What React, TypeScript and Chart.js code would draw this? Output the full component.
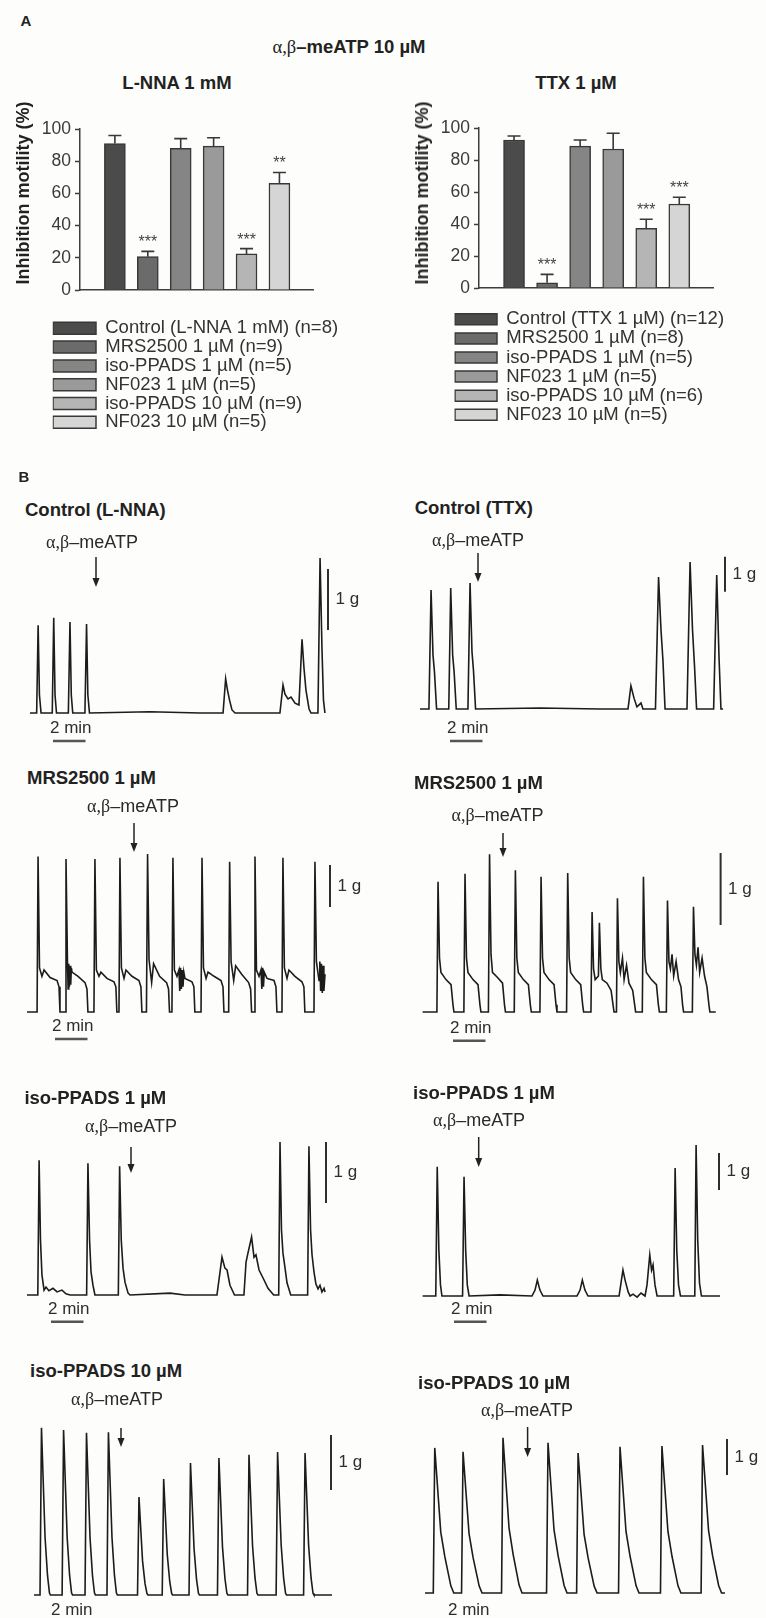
import React, { useEffect, useRef } from 'react';
import { Chart, registerables } from 'chart.js';

Chart.register(...registerables);

const SANS = '"Liberation Sans", Arial, Helvetica, sans-serif';
const SERIF = '"Liberation Serif", "Times New Roman", serif';
const INK = '#222222';
const AXIS = '#3e3e3e';
const BG = '#fdfdfb';

// ---------------- Panel A : bar data ----------------
const CATEGORIES_LNNA = [
  'Control (L-NNA 1 mM) (n=8)',
  'MRS2500 1 µM (n=9)',
  'iso-PPADS 1 µM (n=5)',
  'NF023 1 µM (n=5)',
  'iso-PPADS 10 µM (n=9)',
  'NF023 10 µM (n=5)',
];
const VALUES_LNNA = [91, 20.7, 88, 89.4, 22.4, 66.3];
const SEM_LNNA = [5, 3.3, 6, 5.2, 3.3, 6.7];
const SIG_LNNA = ['', '***', '', '', '***', '**'];

const CATEGORIES_TTX = [
  'Control (TTX 1 µM) (n=12)',
  'MRS2500 1 µM (n=8)',
  'iso-PPADS 1 µM (n=5)',
  'NF023 1 µM (n=5)',
  'iso-PPADS 10 µM (n=6)',
  'NF023 10 µM (n=5)',
];
const VALUES_TTX = [92.5, 3.3, 88.7, 86.9, 37.3, 52.5];
const SEM_TTX = [2.5, 5.2, 3.8, 9.8, 5.7, 4.2];
const SIG_TTX = ['', '***', '', '', '***', '***'];

const BAR_FILLS = ['#4b4b4b', '#6b6b6b', '#858585', '#9a9a9a', '#b5b5b5', '#d5d5d5'];

// ---------------- Panel B : traces (time in min, force in g) ----------------
const CTRL_LNNA_T = [0, 0.41, 0.5, 0.58, 0.68, 1.37, 1.46, 1.54, 1.63, 2.36, 2.46, 2.54, 2.63, 3.38, 3.48, 3.56, 3.66, 7.38, 10.46, 11.88, 12.04, 12.15, 12.28, 12.43, 12.62, 15.38, 15.57, 15.69, 15.88, 16.06, 16.31, 16.55, 16.74, 16.86, 16.98, 17.17, 17.29, 17.72, 17.85, 17.97, 18.06, 18.15];
const CTRL_LNNA_G = [0, 0, 1.44, 0.3, 0, 0, 1.56, 0.3, 0, 0, 1.49, 0.3, 0, 0, 1.46, 0.3, 0, 0.02, 0, 0, 0.56, 0.38, 0.21, 0.05, 0, 0, 0.46, 0.31, 0.23, 0.26, 0.16, 0.13, 1.21, 0.74, 0.38, 0.07, 0, 0, 2.54, 1.03, 0.21, 0];

const CTRL_TTX_T = [0, 0.55, 0.68, 0.8, 0.89, 1.02, 1.77, 1.89, 2.01, 2.1, 2.23, 2.95, 3.08, 3.2, 3.29, 3.42, 7.38, 11.08, 12.8, 12.98, 13.17, 13.35, 13.6, 13.72, 14.49, 14.68, 14.83, 14.95, 15.08, 16.43, 16.62, 16.77, 16.89, 17.02, 18.07, 18.26, 18.4, 18.52, 18.65];
const CTRL_TTX_G = [0, 0, 3.4, 1.54, 1.06, 0, 0, 3.46, 1.54, 1.06, 0, 0, 3.6, 1.63, 1.11, 0, 0.03, 0, 0, 0.66, 0.31, 0.06, 0.17, 0, 0, 3.77, 2.26, 1.4, 0, 0, 4.2, 2.26, 1.26, 0, 0, 3.83, 1.49, 0, 0];

const MRS_LNNA_T = [0,
  0.62, 0.68, 0.77, 0.92, 1.05, 1.42, 1.85, 1.97, 2.03,
  2.34, 2.40, 2.49, 2.53, 2.57, 2.61, 2.65, 2.69, 2.73, 2.77, 3.14, 3.57, 3.69, 3.75,
  4.12, 4.18, 4.27, 4.43, 4.55, 4.92, 5.35, 5.47, 5.53,
  5.66, 5.72, 5.81, 5.97, 6.09, 6.46, 6.89, 7.01, 7.07,
  7.35, 7.42, 7.51, 7.67, 7.79, 8.16, 8.59, 8.71, 8.77,
  8.92, 8.98, 9.07, 9.23, 9.35, 9.40, 9.45, 9.50, 9.55, 9.60, 9.65, 9.72, 10.15, 10.27, 10.33,
  10.71, 10.77, 10.86, 11.02, 11.14, 11.51, 11.94, 12.06, 12.12,
  12.41, 12.47, 12.56, 12.72, 12.84, 13.21, 13.64, 13.76, 13.82,
  13.97, 14.03, 14.12, 14.28, 14.40, 14.45, 14.50, 14.55, 14.60, 14.77, 15.20, 15.32, 15.38,
  15.69, 15.75, 15.84, 16.00, 16.12, 16.49, 16.92, 17.04, 17.10,
  17.66, 17.72, 17.81, 17.97, 18.02, 18.07, 18.12, 18.17, 18.22, 18.27, 18.34];
const MRS_LNNA_G = [0,
  0, 3.70, 1.05, 0.85, 1.0, 0.82, 0.75, 0.6, 0,
  0, 3.64, 1.2, 0.55, 1.15, 0.6, 1.1, 0.65, 1.05, 0.95, 0.85, 0.7, 0.55, 0,
  0, 3.64, 1.0, 0.85, 0.95, 0.8, 0.72, 0.6, 0,
  0, 3.67, 1.05, 0.8, 1.0, 0.85, 0.75, 0.6, 0,
  0, 3.76, 1.25, 0.7, 1.15, 0.85, 0.7, 0.55, 0,
  0, 3.67, 1.0, 0.85, 1.0, 0.5, 1.05, 0.55, 1.0, 0.6, 0.95, 0.8, 0.72, 0.6, 0,
  0, 3.67, 1.05, 0.8, 0.95, 0.85, 0.75, 0.6, 0,
  0, 3.58, 1.2, 0.75, 1.1, 0.9, 0.7, 0.55, 0,
  0, 3.70, 1.0, 0.85, 1.0, 0.55, 1.05, 0.6, 0.95, 0.8, 0.75, 0.6, 0,
  0, 3.67, 1.05, 0.8, 1.0, 0.85, 0.72, 0.6, 0,
  0, 3.58, 1.2, 0.75, 1.2, 0.5, 1.15, 0.45, 1.1, 0.5, 0.9];

const MRS_TTX_T = [0,
  0.88, 0.95, 1.04, 1.13, 1.44, 1.75, 1.87, 1.93,
  2.54, 2.61, 2.70, 2.79, 3.10, 3.41, 3.53, 3.59,
  4.05, 4.12, 4.21, 4.30, 4.61, 4.92, 5.04, 5.10,
  5.64, 5.71, 5.80, 5.89, 6.20, 6.51, 6.63, 6.69,
  7.22, 7.29, 7.38, 7.47, 7.78, 8.09, 8.21, 8.27,
  8.86, 8.93, 9.02, 9.11, 9.42, 9.73, 9.85, 9.91,
  10.36, 10.43, 10.52, 10.62, 10.82, 10.88, 10.97, 11.06, 11.35, 11.60, 11.72, 11.78,
  11.93, 11.99, 12.08, 12.17, 12.30, 12.40, 12.55, 12.70, 12.93, 13.05, 13.11,
  13.52, 13.59, 13.68, 13.77, 14.08, 14.39, 14.51, 14.57,
  15.00, 15.07, 15.16, 15.25, 15.35, 15.45, 15.60, 15.75, 15.90, 16.00, 16.06,
  16.60, 16.67, 16.76, 16.85, 16.95, 17.05, 17.20, 17.35, 17.50, 17.62, 17.68,
  18.04];
const MRS_TTX_G = [0,
  0, 1.81, 0.75, 0.55, 0.45, 0.38, 0.1, 0,
  0, 1.92, 0.75, 0.55, 0.45, 0.38, 0.1, 0,
  0, 2.19, 0.8, 0.55, 0.48, 0.4, 0.1, 0,
  0, 1.97, 0.75, 0.55, 0.45, 0.38, 0.1, 0,
  0, 1.88, 0.75, 0.55, 0.45, 0.38, 0.1, 0,
  0, 1.93, 0.75, 0.55, 0.45, 0.38, 0.1, 0,
  0, 1.39, 0.6, 0.45, 0.5, 1.24, 0.6, 0.45, 0.4, 0.3, 0.1, 0,
  0, 1.58, 0.7, 0.55, 0.75, 0.45, 0.65, 0.4, 0.3, 0.1, 0,
  0, 1.88, 0.75, 0.55, 0.45, 0.38, 0.1, 0,
  0, 1.55, 0.7, 0.6, 0.8, 0.5, 0.7, 0.45, 0.35, 0.1, 0,
  0, 1.46, 0.8, 0.65, 0.9, 0.55, 0.75, 0.5, 0.35, 0.1, 0,
  0];

const ISO1_LNNA_T = [0, 0.665, 0.745, 0.83, 0.92, 1.05, 1.17, 1.35, 1.60, 1.85, 2.15, 2.40, 2.65, 3.67, 3.75, 3.85, 3.94, 4.06, 4.18, 5.62, 5.70, 5.80, 5.91, 6.03, 6.22, 6.34, 8.80, 9.72, 11.69, 12.00, 12.18, 12.31, 12.49, 12.77, 13.35, 13.48, 13.60, 13.82, 13.97, 14.09, 14.28, 14.58, 14.83, 15.18, 15.49, 15.57, 15.66, 15.75, 15.88, 16.00, 16.23, 17.27, 17.35, 17.45, 17.54, 17.66, 17.78, 17.91, 18.03, 18.15, 18.28, 18.34];
const ISO1_LNNA_G = [0, 0, 2.21, 0.90, 0.33, 0.08, 0.13, 0.07, 0.11, 0.05, 0.08, 0.02, 0, 0, 2.16, 0.90, 0.38, 0.16, 0, 0, 2.11, 0.90, 0.44, 0.21, 0.03, 0, 0.03, 0, 0, 0.62, 0.44, 0.41, 0.16, 0, 0, 0.54, 0.69, 0.95, 0.62, 0.66, 0.41, 0.25, 0.11, 0, 0, 2.51, 1.07, 0.69, 0.44, 0.20, 0, 0, 2.44, 1.07, 0.66, 0.38, 0.18, 0.10, 0.16, 0.05, 0.11, 0.05];

const ISO1_TTX_T = [0, 0.81, 0.90, 1.00, 1.10, 1.19, 2.46, 2.55, 2.65, 2.75, 2.86, 4.76, 6.73, 6.92, 7.06, 7.22, 7.41, 9.50, 9.69, 9.83, 9.99, 10.18, 12.09, 12.22, 12.33, 12.46, 12.65, 12.77, 12.95, 13.20, 13.44, 13.69, 13.81, 13.98, 14.09, 14.18, 14.30, 14.43, 15.45, 15.54, 15.64, 15.75, 15.87, 16.75, 16.83, 16.93, 17.04, 17.16, 18.30];
const ISO1_TTX_G = [0, 0, 3.49, 1.24, 0.30, 0, 0, 3.22, 1.24, 0.30, 0, 0.03, 0, 0.16, 0.43, 0.16, 0, 0, 0.16, 0.43, 0.16, 0, 0, 0.38, 0.70, 0.43, 0.11, 0, 0.05, -0.03, 0.08, 0, 0.30, 1.11, 0.70, 0.84, 0.30, 0, 0, 3.46, 1.24, 0.30, 0, 0, 4.08, 1.51, 0.35, 0, 0];

const ISO10_LNNA_T = [0, 0.37, 0.46, 0.68, 0.83, 0.95, 1.01, 1.73, 1.82, 2.04, 2.19, 2.31, 2.37, 3.14, 3.23, 3.45, 3.60, 3.72, 3.78, 4.49, 4.58, 4.80, 4.95, 5.07, 5.13, 6.37, 6.46, 6.68, 6.83, 6.95, 7.01, 7.89, 7.98, 8.20, 8.35, 8.47, 8.53, 9.54, 9.63, 9.85, 10.00, 10.12, 10.18, 11.29, 11.38, 11.60, 11.75, 11.87, 11.93, 13.14, 13.23, 13.45, 13.60, 13.72, 13.78, 14.90, 14.99, 15.21, 15.36, 15.48, 15.54, 16.59, 16.68, 16.90, 17.05, 17.17, 17.23, 18.34];
const ISO10_LNNA_G = [0, 0, 3.04, 1.05, 0.36, 0.04, 0, 0, 3.00, 1.05, 0.36, 0.04, 0, 0, 2.95, 1.03, 0.35, 0.04, 0, 0, 2.96, 1.04, 0.36, 0.04, 0, 0, 1.78, 0.62, 0.21, 0.03, 0, 0, 2.11, 0.74, 0.25, 0.03, 0, 0, 2.40, 0.84, 0.29, 0.03, 0, 0, 2.49, 0.87, 0.30, 0.03, 0, 0, 2.55, 0.89, 0.31, 0.03, 0, 0, 2.60, 0.91, 0.31, 0.03, 0, 0, 2.58, 0.90, 0.31, 0.03, 0, 0];

const ISO10_TTX_T = [0, 0.51, 0.60, 0.97, 1.22, 1.59, 1.77, 2.25, 2.34, 2.71, 2.96, 3.33, 3.51, 4.71, 4.80, 5.17, 5.42, 5.79, 5.97, 7.48, 7.57, 7.94, 8.19, 8.56, 8.74, 9.33, 9.42, 9.79, 10.04, 10.41, 10.59, 11.91, 12.00, 12.37, 12.62, 12.99, 13.17, 14.49, 14.58, 14.95, 15.20, 15.57, 15.75, 16.99, 17.08, 17.45, 17.70, 18.07, 18.25, 18.46];
const ISO10_TTX_G = [0, 0, 4.03, 1.69, 1.01, 0.20, 0, 0, 3.92, 1.65, 0.98, 0.20, 0, 0, 4.31, 1.81, 1.08, 0.22, 0, 0, 4.17, 1.75, 1.04, 0.21, 0, 0, 3.89, 1.63, 0.97, 0.19, 0, 0, 4.06, 1.71, 1.02, 0.20, 0, 0, 4.08, 1.71, 1.02, 0.20, 0, 0, 4.11, 1.73, 1.03, 0.21, 0, 0];

// ---------------- layout (page pixels) ----------------
const PX_PER_MIN = 16.25;

const BAR_PANELS = [
  {
    key: 'lnna', left: 0, top: 100, width: 366, height: 350,
    categories: CATEGORIES_LNNA, values: VALUES_LNNA, sem: SEM_LNNA, sig: SIG_LNNA,
    padding: { left: 0, right: 53, top: 29, bottom: 8.45 },
    yAxisW: 80, xAxisH: 28.75, legendLeft: 52.7, legendPad: 0.3, boxW: 43, boxH: 12,
  },
  {
    key: 'ttx', left: 400, top: 100, width: 366, height: 350,
    categories: CATEGORIES_TTX, values: VALUES_TTX, sem: SEM_TTX, sig: SIG_TTX,
    padding: { left: 0, right: 53, top: 28, bottom: 15.95 },
    yAxisW: 79, xAxisH: 21.45, legendLeft: 54.4, legendPad: 0.6, boxW: 42, boxH: 11,
  },
];

const TRACE_PANELS = [
  { key: 'r1l', title: 'Control (L-NNA)', titleAt: [25, 509.5], t: CTRL_LNNA_T, g: CTRL_LNNA_G,
    box: { left: 0, top: 525, width: 383, height: 225 }, x0: 30, base: 713, gPx: 61,
    arrow: [96, 557, 587], label: [92, 541.5], gBar: [328, 569], minBar: [53, 741] },
  { key: 'r1r', title: 'Control (TTX)', titleAt: [414.7, 508], t: CTRL_TTX_T, g: CTRL_TTX_G,
    box: { left: 383, top: 525, width: 383, height: 225 }, x0: 420, base: 709, gPx: 35,
    arrow: [478, 553, 582], label: [478, 540], gBar: [725, 556.7], minBar: [450, 741] },
  { key: 'r2l', title: 'MRS2500 1 µM', titleAt: [27, 778], t: MRS_LNNA_T, g: MRS_LNNA_G,
    box: { left: 0, top: 792, width: 383, height: 256 }, x0: 27, base: 1012, gPx: 42,
    arrow: [134, 823, 852], label: [133, 806], gBar: [330, 865], minBar: [55, 1039] },
  { key: 'r2r', title: 'MRS2500 1 µM', titleAt: [414, 783], t: MRS_TTX_T, g: MRS_TTX_G,
    box: { left: 383, top: 792, width: 383, height: 256 }, x0: 422.6, base: 1012, gPx: 72,
    arrow: [503, 833, 857], label: [497.5, 815], gBar: [720.6, 853], minBar: [453, 1040.7] },
  { key: 'r3l', title: 'iso-PPADS 1 µM', titleAt: [24.4, 1098], t: ISO1_LNNA_T, g: ISO1_LNNA_G,
    box: { left: 0, top: 1106, width: 383, height: 222 }, x0: 27, base: 1295, gPx: 61,
    arrow: [131, 1147, 1173], label: [131, 1126], gBar: [326, 1142], minBar: [51, 1321.7] },
  { key: 'r3r', title: 'iso-PPADS 1 µM', titleAt: [413, 1093], t: ISO1_TTX_T, g: ISO1_TTX_G,
    box: { left: 383, top: 1106, width: 383, height: 222 }, x0: 422.6, base: 1296, gPx: 37,
    arrow: [478.7, 1137, 1167], label: [479, 1120], gBar: [719, 1153], minBar: [454, 1321.7] },
  { key: 'r4l', title: 'iso-PPADS 10 µM', titleAt: [30, 1371], t: ISO10_LNNA_T, g: ISO10_LNNA_G,
    box: { left: 0, top: 1386, width: 383, height: 232 }, x0: 34, base: 1595, gPx: 55,
    arrow: [121, 1428, 1447], label: [117, 1399], gBar: [331, 1435], minBar: [54, 1622.5] },
  { key: 'r4r', title: 'iso-PPADS 10 µM', titleAt: [418, 1383], t: ISO10_TTX_T, g: ISO10_TTX_G,
    box: { left: 383, top: 1386, width: 383, height: 232 }, x0: 425, base: 1593, gPx: 36,
    arrow: [527.6, 1427, 1457], label: [527, 1410], gBar: [727, 1439], minBar: [451, 1622.5] },
];

// ---------------- helpers ----------------
function drawAgonist(ctx: CanvasRenderingContext2D, cx: number, cy: number, size: number) {
  const parts = [
    { t: 'α,β', f: `${size}px ${SERIF}` },
    { t: '–meATP', f: `${size}px ${SANS}` },
  ];
  const widths = parts.map((p) => { ctx.font = p.f; return ctx.measureText(p.t).width; });
  const total = widths.reduce((a, b) => a + b, 0);
  let x = cx - total / 2;
  ctx.textAlign = 'left';
  ctx.textBaseline = 'alphabetic';
  ctx.fillStyle = '#2a2a2a';
  parts.forEach((p, i) => { ctx.font = p.f; ctx.fillText(p.t, x, cy + size * 0.36); x += widths[i]; });
}

function BarPanel({ cfg }: { cfg: any }) {
  const ref = useRef<HTMLCanvasElement>(null);
  useEffect(() => {
    const extras = {
      id: 'barExtras_' + cfg.key,
      afterLayout(chart: any) {
        const lg = chart.legend;
        if (lg) {
          lg.left = cfg.legendLeft;
          lg.right = chart.width;
          lg.width = lg.right - lg.left;
        }
      },
      afterDatasetsDraw(chart: any) {
        const { ctx } = chart;
        const xs = chart.scales.x;
        const ys = chart.scales.y;
        ctx.save();
        ctx.strokeStyle = '#383838';
        ctx.lineWidth = 1.6;
        cfg.values.forEach((v: number, i: number) => {
          const px = xs.getPixelForValue(i);
          const yb = ys.getPixelForValue(v);
          const yt = ys.getPixelForValue(v + cfg.sem[i]);
          ctx.beginPath();
          ctx.moveTo(px, yb);
          ctx.lineTo(px, yt);
          ctx.moveTo(px - 6.5, yt);
          ctx.lineTo(px + 6.5, yt);
          ctx.stroke();
          if (cfg.sig[i]) {
            ctx.fillStyle = '#444';
            ctx.font = `16px ${SANS}`;
            ctx.textAlign = 'center';
            ctx.textBaseline = 'alphabetic';
            ctx.fillText(cfg.sig[i], px, yt - 4);
          }
        });
        ctx.restore();
      },
    };
    const chart = new Chart(ref.current as HTMLCanvasElement, {
      type: 'bar',
      data: {
        datasets: [{
          data: cfg.values.map((v: number, i: number) => ({ x: i, y: v })),
          backgroundColor: BAR_FILLS,
          borderColor: '#383838',
          borderWidth: 1.5,
          barThickness: 21,
        }],
      },
      options: {
        responsive: false,
        animation: false,
        devicePixelRatio: 1,
        events: [],
        layout: { padding: cfg.padding },
        scales: {
          x: {
            type: 'linear', min: -1.06, max: 6.02, offset: false,
            ticks: { display: false },
            grid: { display: false, drawTicks: false },
            border: { display: true, color: AXIS, width: 1.5 },
            afterFit: (s: any) => { s.height = cfg.xAxisH; },
          },
          y: {
            type: 'linear', min: 0, max: 100,
            ticks: { stepSize: 20, font: { family: SANS, size: 17.5 }, color: '#3a3a3a', padding: 4 },
            grid: { display: true, drawOnChartArea: false, drawTicks: true, tickLength: 5, tickColor: AXIS, tickWidth: 1.5 },
            border: { display: true, color: AXIS, width: 1.5 },
            afterFit: (s: any) => { s.width = cfg.yAxisW; },
          },
        },
        plugins: {
          tooltip: { enabled: false },
          legend: {
            position: 'bottom',
            align: 'start',
            labels: {
              boxWidth: cfg.boxW,
              boxHeight: cfg.boxH,
              padding: cfg.legendPad,
              font: { family: SANS, size: 18.5 },
              color: '#333',
              generateLabels: () => cfg.categories.map((c: string, i: number) => ({
                text: c, fillStyle: BAR_FILLS[i], strokeStyle: '#383838', lineWidth: 1.5,
                hidden: false, index: i, datasetIndex: 0, fontColor: '#333',
              })),
            },
          },
        },
      } as any,
      plugins: [extras],
    });
    return () => chart.destroy();
  }, []);
  return (
    <canvas ref={ref} width={cfg.width} height={cfg.height}
      style={{ position: 'absolute', left: cfg.left, top: cfg.top, width: cfg.width, height: cfg.height }} />
  );
}

function TracePanel({ tr }: { tr: any }) {
  const ref = useRef<HTMLCanvasElement>(null);
  useEffect(() => {
    const { box, x0, base, gPx } = tr;
    const xmin = (box.left - x0) / PX_PER_MIN;
    const xmax = (box.left + box.width - x0) / PX_PER_MIN;
    const ymax = (base - box.top) / gPx;
    const ymin = (base - box.top - box.height) / gPx;
    const annot = {
      id: 'anno_' + tr.key,
      afterDraw(chart: any) {
        const { ctx } = chart;
        const xs = chart.scales.x;
        const ys = chart.scales.y;
        const ox = box.left;
        const oy = box.top;
        ctx.save();
        const ax = tr.arrow[0] - ox;
        const a1 = tr.arrow[1] - oy;
        const a2 = tr.arrow[2] - oy;
        ctx.strokeStyle = INK;
        ctx.fillStyle = INK;
        ctx.lineWidth = 1.5;
        ctx.beginPath();
        ctx.moveTo(ax, a1);
        ctx.lineTo(ax, a2 - 8);
        ctx.stroke();
        ctx.beginPath();
        ctx.moveTo(ax - 3.5, a2 - 9);
        ctx.lineTo(ax + 3.5, a2 - 9);
        ctx.lineTo(ax, a2);
        ctx.closePath();
        ctx.fill();
        drawAgonist(ctx, tr.label[0] - ox, tr.label[1] - oy, 18);
        const gLen = ys.getPixelForValue(0) - ys.getPixelForValue(1);
        const gx = tr.gBar[0] - ox;
        const gy = tr.gBar[1] - oy;
        ctx.strokeStyle = '#2e2e2e';
        ctx.lineWidth = 2;
        ctx.beginPath();
        ctx.moveTo(gx, gy);
        ctx.lineTo(gx, gy + gLen);
        ctx.stroke();
        ctx.fillStyle = '#2e2e2e';
        ctx.font = `17px ${SANS}`;
        ctx.textAlign = 'left';
        ctx.textBaseline = 'middle';
        ctx.fillText('1 g', gx + 7.5, gy + gLen / 2);
        const mLen = xs.getPixelForValue(2) - xs.getPixelForValue(0);
        const mx = tr.minBar[0] - ox;
        const my = tr.minBar[1] - oy;
        ctx.strokeStyle = '#555';
        ctx.lineWidth = 2.5;
        ctx.beginPath();
        ctx.moveTo(mx, my);
        ctx.lineTo(mx + mLen, my);
        ctx.stroke();
        ctx.fillStyle = '#2e2e2e';
        ctx.fillText('2 min', mx - 3, my - 12.5);
        ctx.restore();
      },
    };
    const chart = new Chart(ref.current as HTMLCanvasElement, {
      type: 'line',
      data: {
        datasets: [{
          data: tr.t.map((t: number, i: number) => ({ x: t, y: tr.g[i] })),
          borderColor: '#1c1c1c',
          borderWidth: 1.6,
          pointRadius: 0,
          tension: 0,
          fill: false,
        }],
      },
      options: {
        responsive: false,
        animation: false,
        devicePixelRatio: 1,
        events: [],
        layout: { padding: 0 },
        scales: {
          x: { type: 'linear', display: false, min: xmin, max: xmax },
          y: { type: 'linear', display: false, min: ymin, max: ymax },
        },
        plugins: { legend: { display: false }, tooltip: { enabled: false } },
      } as any,
      plugins: [annot],
    });
    return () => chart.destroy();
  }, []);
  const { box } = tr;
  return (
    <canvas ref={ref} width={box.width} height={box.height}
      style={{ position: 'absolute', left: box.left, top: box.top, width: box.width, height: box.height }} />
  );
}

function Txt({ x, y, size = 18, bold = false, center = false, rotate = false, color = INK, children }: any) {
  const style: React.CSSProperties = {
    position: 'absolute', left: x, top: y, fontFamily: SANS, fontSize: size,
    fontWeight: bold ? 700 : 400, lineHeight: 1, whiteSpace: 'nowrap', color,
    transform: `translate(${center ? '-50%' : '0'}, -50%)${rotate ? ' rotate(-90deg)' : ''}`,
  };
  return <div style={style}>{children}</div>;
}

export default function App() {
  useEffect(() => {
    document.body.style.margin = '0';
    document.body.style.background = BG;
  }, []);
  return (
    <div style={{ position: 'absolute', left: 0, top: 0, width: 766, height: 1618, overflow: 'hidden', background: BG }}>
      {BAR_PANELS.map((cfg) => <BarPanel key={cfg.key} cfg={cfg} />)}
      {TRACE_PANELS.map((tr) => <TracePanel key={tr.key} tr={tr} />)}

      <Txt x={20.5} y={20} size={15} bold>A</Txt>
      <Txt x={349} y={47} size={18.5} bold center>
        <span style={{ fontFamily: SERIF, fontWeight: 400 }}>α,β</span>–meATP 10 µM
      </Txt>
      <Txt x={177} y={83} size={18.5} bold center>L-NNA 1 mM</Txt>
      <Txt x={576} y={83} size={18.5} bold center>TTX 1 µM</Txt>
      <Txt x={23} y={193} size={18} bold center rotate>Inhibition motility (%)</Txt>
      <Txt x={422} y={193} size={18} bold center rotate>Inhibition motility (%)</Txt>

      <Txt x={18.5} y={476} size={15} bold>B</Txt>
      {TRACE_PANELS.map((tr) => (
        <Txt key={'t' + tr.key} x={tr.titleAt[0]} y={tr.titleAt[1]} size={18.5} bold>{tr.title}</Txt>
      ))}
    </div>
  );
}
